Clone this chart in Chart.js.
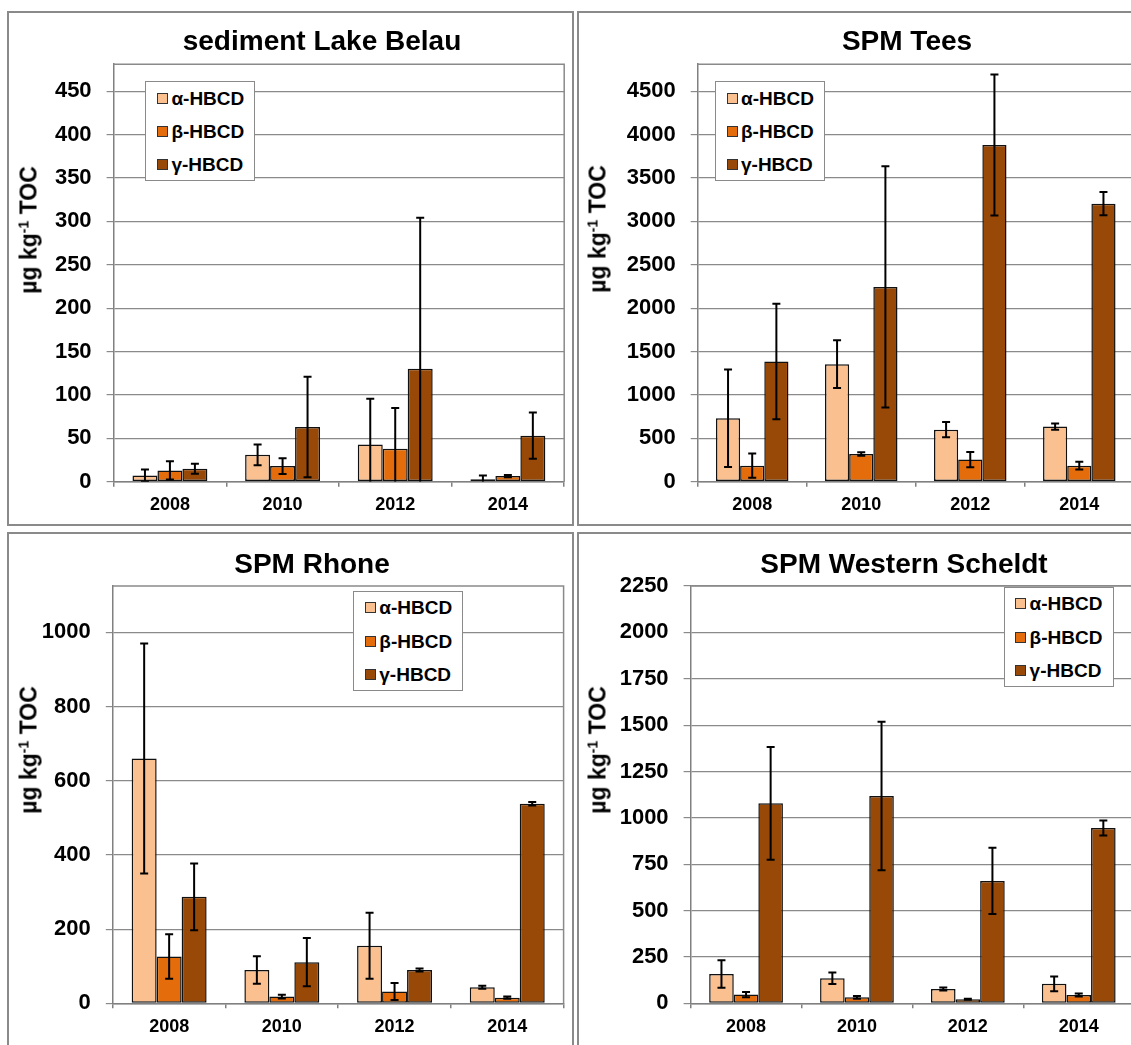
<!DOCTYPE html>
<html><head><meta charset="utf-8">
<script src="https://cdn.jsdelivr.net/npm/chart.js@4.4.1/dist/chart.umd.min.js"></script>
<style>
body{margin:0;width:1131px;height:1045px;overflow:hidden;background:#fff;position:relative;font-family:"Liberation Sans",Arial,sans-serif;}
.panel{position:absolute;border:2px solid #8a8a8a;box-sizing:border-box;background:#fff}
canvas{position:absolute}
.title{position:absolute;font-weight:bold;font-size:28px;line-height:1;white-space:nowrap;transform:translateX(-50%);color:#000}
.ytitle{position:absolute;font-weight:bold;font-size:23px;line-height:1;white-space:nowrap;transform:translate(-50%,-50%) rotate(-90deg);color:#000}
.ytitle sup{font-size:14px;line-height:0;vertical-align:0.6em}
.legend{position:absolute;border:1.5px solid #8a8a8a;background:#fff;box-sizing:border-box;width:110px;height:100px}
.legend .sw{position:absolute;width:11px;height:11px;border:1px solid #333;box-sizing:border-box;left:10.5px}
.legend .lt{position:absolute;left:25px;font-weight:bold;font-size:19px;line-height:19px;white-space:nowrap;color:#000}
</style>
</head><body>
<script>
// ---------- data ----------
const years = ['2008', '2010', '2012', '2014'];
const seriesNames = ['α-HBCD', 'β-HBCD', 'γ-HBCD'];

// sediment Lake Belau
const belauAlpha = [7, 31, 43, 2.7];
const belauAlphaErr = [7, 12, 52.5, 4.3];
const belauBeta = [13, 18, 38, 6.5];
const belauBetaErr = [10.5, 9, 47, 1.3];
const belauGamma = [15, 63, 130, 53];
const belauGammaErr = [5.8, 58, 174, 26.7];
const belauTicks = [0, 50, 100, 150, 200, 250, 300, 350, 400, 450];

// SPM Tees
const teesAlpha = [730, 1355, 600, 635];
const teesAlphaErr = [562, 275, 88, 35];
const teesBeta = [185, 320, 255, 185];
const teesBetaErr = [140, 20, 88, 45];
const teesGamma = [1385, 2245, 3880, 3205];
const teesGammaErr = [666, 1390, 812, 133];
const teesTicks = [0, 500, 1000, 1500, 2000, 2500, 3000, 3500, 4000, 4500];

// SPM Rhone
const rhoneAlpha = [660, 90, 155, 43];
const rhoneAlphaErr = [310, 37, 89, 4];
const rhoneBeta = [126, 18, 32, 15];
const rhoneBetaErr = [60, 5, 23, 3];
const rhoneGamma = [287, 111, 90, 538];
const rhoneGammaErr = [90, 65, 4, 5];
const rhoneTicks = [0, 200, 400, 600, 800, 1000];

// SPM Western Scheldt
const scheldtAlpha = [158, 135, 77, 105];
const scheldtAlphaErr = [74, 31, 8, 40];
const scheldtBeta = [47, 32, 22, 45];
const scheldtBetaErr = [14, 8, 3, 8];
const scheldtGamma = [1078, 1118, 660, 945];
const scheldtGammaErr = [304, 400, 179, 40];
const scheldtTicks = [0, 250, 500, 750, 1000, 1250, 1500, 1750, 2000, 2250];

// ---------- style / layout ----------
const colors = ['#FAC090', '#E46C0A', '#984807'];
const FONT = '"Liberation Sans", Arial, sans-serif';
const YW = 92, XH = 40;

const panels = [
  { title: 'sediment Lake Belau', box: [7, 11, 567, 515], canvas: [9, 13, 563, 511], plot: {l: 113.6, r: 564.2, t: 64.2, b: 481.7},
    yMax: 481, ticks: belauTicks, titleX: 322, titleTop: 27, yt: [28.5, 230], legend: [145.4, 81.1],
    data: [belauAlpha, belauBeta, belauGamma], err: [belauAlphaErr, belauBetaErr, belauGammaErr] },
  { title: 'SPM Tees', box: [577, 11, 600, 515], canvas: [579, 13, 600, 511], plot: {l: 697.7, r: 1133.8, t: 64.2, b: 481.7},
    yMax: 4812, ticks: teesTicks, titleX: 907, titleTop: 27, yt: [597.7, 229], legend: [715, 81.1],
    data: [teesAlpha, teesBeta, teesGamma], err: [teesAlphaErr, teesBetaErr, teesGammaErr] },
  { title: 'SPM Rhone', box: [7, 532, 567, 600], canvas: [9, 534, 563, 511], plot: {l: 112.8, r: 563.6, t: 586, b: 1003.3},
    yMax: 1125, ticks: rhoneTicks, titleX: 312, titleTop: 549.6, yt: [28.5, 750], legend: [353.3, 590.7],
    data: [rhoneAlpha, rhoneBeta, rhoneGamma], err: [rhoneAlphaErr, rhoneBetaErr, rhoneGammaErr] },
  { title: 'SPM Western Scheldt', box: [577, 532, 600, 600], canvas: [579, 534, 600, 511], plot: {l: 690.6, r: 1134.2, t: 586, b: 1003.3},
    yMax: 2250, ticks: scheldtTicks, titleX: 904, titleTop: 549.6, yt: [597.7, 750], legend: [1003.6, 586.7],
    data: [scheldtAlpha, scheldtBeta, scheldtGamma], err: [scheldtAlphaErr, scheldtBetaErr, scheldtGammaErr] }
];

const plotFrame = {
  id: 'plotFrame',
  beforeDatasetsDraw(chart) {
    const a = chart.chartArea, ctx = chart.ctx;
    ctx.save();
    ctx.strokeStyle = '#8a8a8a';
    ctx.lineWidth = 1.5;
    ctx.beginPath();
    ctx.moveTo(a.left, a.top); ctx.lineTo(a.right, a.top); ctx.lineTo(a.right, a.bottom);
    ctx.stroke();
    ctx.restore();
  }
};

const errorBars = {
  id: 'errorBars',
  afterDatasetsDraw(chart) {
    const {ctx, chartArea: a} = chart;
    const y = chart.scales.y;
    ctx.save();
    ctx.beginPath();
    ctx.rect(a.left, a.top - 20, a.right - a.left, a.bottom - a.top + 20);
    ctx.clip();
    ctx.strokeStyle = '#000';
    ctx.lineWidth = 2;
    chart.data.datasets.forEach((ds, i) => {
      const meta = chart.getDatasetMeta(i);
      ds.errors.forEach((e, j) => {
        const v = ds.data[j];
        const x = meta.data[j].x;
        const hi = y.getPixelForValue(v + e);
        const lo = y.getPixelForValue(Math.max(v - e, 0));
        ctx.beginPath();
        ctx.moveTo(x, hi); ctx.lineTo(x, lo);
        ctx.moveTo(x - 4, hi); ctx.lineTo(x + 4, hi);
        if (v - e >= -0.01) { ctx.moveTo(x - 4, lo); ctx.lineTo(x + 4, lo); }
        ctx.stroke();
      });
    });
    ctx.restore();
  }
};

const body = document.body;
function el(tag, cls, css, html) {
  const d = document.createElement(tag);
  if (cls) d.className = cls;
  Object.assign(d.style, css || {});
  if (html !== undefined) d.innerHTML = html;
  body.appendChild(d);
  return d;
}

panels.forEach((p) => {
  el('div', 'panel', {left: p.box[0] + 'px', top: p.box[1] + 'px', width: p.box[2] + 'px', height: p.box[3] + 'px'});
});

panels.forEach((p, k) => {
  const c = document.createElement('canvas');
  c.width = p.canvas[2]; c.height = p.canvas[3];
  Object.assign(c.style, {left: p.canvas[0] + 'px', top: p.canvas[1] + 'px', width: p.canvas[2] + 'px', height: p.canvas[3] + 'px'});
  body.appendChild(c);
  const pad = {
    left: p.plot.l - p.canvas[0] - YW,
    right: p.canvas[0] + p.canvas[2] - p.plot.r,
    top: p.plot.t - p.canvas[1],
    bottom: p.canvas[1] + p.canvas[3] - p.plot.b - XH
  };
  new Chart(c, {
    type: 'bar',
    data: {
      labels: years,
      datasets: seriesNames.map((n, i) => ({
        label: n, data: p.data[i], errors: p.err[i],
        backgroundColor: colors[i], borderColor: '#111', borderWidth: 1.5, borderSkipped: false,
        categoryPercentage: 0.665, barPercentage: 1
      }))
    },
    options: {
      responsive: false, animation: false, devicePixelRatio: 1,
      layout: {padding: pad},
      plugins: {legend: {display: false}, title: {display: false}, tooltip: {enabled: false}},
      scales: {
        x: {
          offset: true,
          grid: {display: true, offset: true, drawOnChartArea: false, drawTicks: true, tickLength: 5, color: '#808080', lineWidth: 1.5},
          border: {display: true, color: '#808080', width: 1.5},
          ticks: {font: {family: FONT, size: 18, weight: 'bold'}, color: '#000', padding: 8, maxRotation: 0, autoSkip: false},
          afterFit: (s) => { s.height = XH; }
        },
        y: {
          min: 0, max: p.yMax,
          grid: {color: '#8a8a8a', lineWidth: 1.2, tickLength: 7, drawTicks: true},
          border: {display: true, color: '#808080', width: 1.5},
          ticks: {font: {family: FONT, size: 22, weight: 'bold'}, color: '#000', padding: 15, callback: (v) => String(v)},
          afterBuildTicks: (s) => { s.ticks = p.ticks.map((v) => ({value: v})); },
          afterFit: (s) => { s.width = YW; }
        }
      }
    },
    plugins: [plotFrame, errorBars]
  });
});

panels.forEach((p) => {
  el('div', 'title', {left: p.titleX + 'px', top: p.titleTop + 'px'}, p.title);
  el('div', 'ytitle', {left: p.yt[0] + 'px', top: p.yt[1] + 'px'}, 'µg kg<sup>-1</sup> TOC');
  const lg = el('div', 'legend', {left: p.legend[0] + 'px', top: p.legend[1] + 'px'});
  const rows = [16.2, 49.5, 82.8];
  seriesNames.forEach((n, i) => {
    const sw = document.createElement('div'); sw.className = 'sw';
    sw.style.top = (rows[i] - 5.5) + 'px'; sw.style.background = colors[i];
    lg.appendChild(sw);
    const t = document.createElement('div'); t.className = 'lt';
    t.style.top = (rows[i] - 9.5) + 'px'; t.textContent = n;
    lg.appendChild(t);
  });
});
</script>
</body></html>
